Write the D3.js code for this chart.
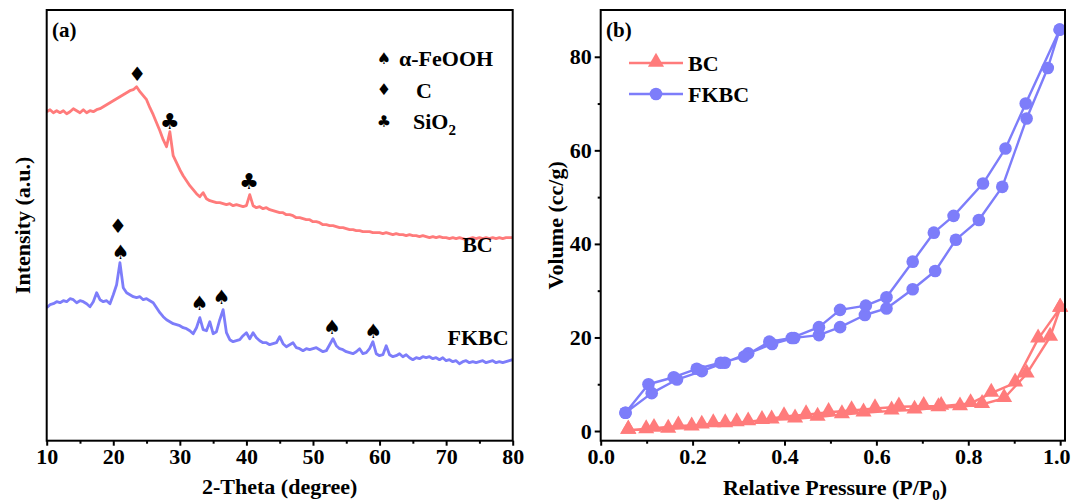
<!DOCTYPE html>
<html>
<head>
<meta charset="utf-8">
<script src="https://cdn.jsdelivr.net/npm/d3@7"></script>
<style>
  body { margin: 0; background: #fff; }
  svg { display: block; }
  text { font-family: "Liberation Serif", "Times New Roman", serif; font-weight: bold; fill: #000; }
  .glyph { font-family: "DejaVu Sans", sans-serif; font-weight: normal; }
</style>
</head>
<body>
<svg id="chart" width="1072" height="502"></svg>
<script>
// ---------- (a) XRD patterns ----------
const twoTheta = [
  10, 10.5, 11, 11.5, 12, 12.5, 13, 13.5, 14, 14.5,
  15, 15.5, 16, 16.5, 17, 17.5, 18, 18.5, 19, 19.5,
  20, 20.5, 21, 21.5, 22, 22.5, 23, 23.5, 24, 24.5,
  25, 25.5, 26, 26.5, 27, 27.5, 28, 28.5, 29, 29.5,
  30, 30.5, 31, 31.5, 32, 32.5, 33, 33.5, 34, 34.5,
  35, 35.5, 36, 36.5, 37, 37.5, 38, 38.5, 39, 39.5,
  40, 40.5, 41, 41.5, 42, 42.5, 43, 43.5, 44, 44.5,
  45, 45.5, 46, 46.5, 47, 47.5, 48, 48.5, 49, 49.5,
  50, 50.5, 51, 51.5, 52, 52.5, 53, 53.5, 54, 54.5,
  55, 55.5, 56, 56.5, 57, 57.5, 58, 58.5, 59, 59.5,
  60, 60.5, 61, 61.5, 62, 62.5, 63, 63.5, 64, 64.5,
  65, 65.5, 66, 66.5, 67, 67.5, 68, 68.5, 69, 69.5,
  70, 70.5, 71, 71.5, 72, 72.5, 73, 73.5, 74, 74.5,
  75, 75.5, 76, 76.5, 77, 77.5, 78, 78.5, 79, 79.5,
  80
];

// stacked intensities (a.u., offset per sample)
const bcIntensity = [
  329, 331, 328, 330, 328, 330, 327, 329, 332, 330,
  328, 331, 328, 330, 329, 331, 332, 334, 336, 338,
  340, 342, 344, 346, 348, 350, 351, 354, 349, 345,
  341, 333, 326, 318, 310, 301, 294, 309, 285, 278,
  271, 265, 260, 255, 251, 247, 244, 248, 242, 240,
  239, 238, 238, 237, 236, 237, 235, 236, 235, 234,
  235, 246, 235, 233, 234, 232, 233, 231, 230, 229,
  228, 228, 226, 226, 225, 223, 223, 222, 221, 221,
  219, 219, 218, 216, 216, 215, 215, 214, 213, 213,
  212, 211, 211, 210, 210, 209, 209, 209, 208, 208,
  208, 207, 208, 207, 206, 207, 206, 206, 205, 206,
  205, 205, 204, 205, 204, 203, 204, 203, 204, 203,
  203, 202, 203, 202, 203, 202, 201, 202, 203, 202,
  203, 202, 203, 202, 203, 202, 203, 202, 203, 203,
  203
];

const fkbcIntensity = [
  133, 136, 137, 139, 138, 140, 139, 142, 141, 138,
  140, 139, 137, 134, 139, 148, 141, 139, 140, 137,
  146, 156, 178, 153, 148, 146, 144, 143, 144, 141,
  142, 140, 138, 133, 128, 124, 121, 119, 117, 116,
  115, 113, 112, 110, 107, 113, 123, 111, 110, 119,
  107, 109, 121, 131, 108, 101, 99, 100, 101, 105,
  108, 102, 108, 103, 100, 98, 98, 96, 97, 98,
  104, 97, 94, 96, 98, 93, 92, 90, 92, 91,
  92, 93, 91, 89, 90, 96, 102, 95, 92, 91,
  89, 88, 87, 89, 92, 87, 88, 92, 99, 87,
  85, 86, 95, 86, 84, 85, 87, 84, 86, 83,
  81, 83, 82, 84, 83, 84, 82, 83, 81, 83,
  80, 81, 79, 80, 77, 79, 80, 78, 79, 78,
  79, 80, 78, 79, 80, 78, 79, 78, 79, 80,
  81
];

const xrdTicks = [10, 20, 30, 40, 50, 60, 70, 80];
const xrdMinorTicks = [15, 25, 35, 45, 55, 65, 75];

// phase markers: [phase, 2θ, height in a.u.]
const phaseMarks = [
  ["C", 23.6, 367], ["SiO2", 28.5, 320], ["SiO2", 40.4, 260],
  ["C", 20.7, 215], ["FeOOH", 21.1, 189], ["FeOOH", 33.0, 138],
  ["FeOOH", 36.3, 144], ["FeOOH", 52.9, 114], ["FeOOH", 59.1, 110]
];
const phaseNames = ["FeOOH", "C", "SiO2"];

// ---------- (b) N2 isotherms ----------
const bcAdsP = [0.060, 0.099, 0.147, 0.198, 0.245, 0.296, 0.372, 0.423, 0.472, 0.525, 0.572, 0.633, 0.683, 0.735, 0.782, 0.830, 0.878, 0.927, 0.978, 1.000];
const bcAdsV = [0.2, 0.3, 0.4, 0.9, 1.6, 1.8, 2.4, 2.6, 3.0, 3.5, 3.9, 4.3, 4.5, 5.0, 5.2, 5.7, 7.0, 12.2, 20.1, 26.3];
const bcDesP = [1.000, 0.952, 0.902, 0.850, 0.805, 0.741, 0.703, 0.649, 0.597, 0.546, 0.496, 0.447, 0.399, 0.351, 0.321, 0.271, 0.220, 0.169, 0.116, 0.060];
const bcDesV = [26.3, 19.7, 10.3, 8.1, 5.9, 5.3, 5.3, 5.2, 4.8, 4.4, 4.0, 3.5, 3.1, 2.3, 2.0, 1.6, 1.3, 1.1, 0.6, 0.2];

const fkbcAdsP = [0.054, 0.111, 0.166, 0.220, 0.270, 0.321, 0.373, 0.421, 0.475, 0.521, 0.575, 0.622, 0.679, 0.728, 0.773, 0.823, 0.874, 0.927, 0.973, 0.999];
const fkbcAdsV = [3.9, 8.1, 11.0, 12.8, 14.6, 16.6, 18.6, 19.9, 20.5, 22.2, 24.8, 26.2, 30.3, 34.2, 40.9, 45.1, 52.2, 66.8, 77.6, 85.8];
const fkbcDesP = [0.999, 0.925, 0.881, 0.832, 0.768, 0.725, 0.679, 0.622, 0.577, 0.521, 0.475, 0.416, 0.367, 0.312, 0.261, 0.209, 0.159, 0.104, 0.054];
const fkbcDesV = [85.8, 70.0, 60.4, 52.9, 46.0, 42.4, 36.2, 28.6, 26.8, 25.9, 22.2, 19.9, 19.1, 15.9, 14.6, 13.3, 11.5, 10.0, 3.9];

const pTicks = [0, 0.2, 0.4, 0.6, 0.8, 1.0];
const pMinorTicks = [0.1, 0.3, 0.5, 0.7, 0.9];
const vTicks = [0, 20, 40, 60, 80];
const vMinorTicks = [10, 30, 50, 70];

const sampleNames = ["BC", "FKBC"];
const colors = { BC: "#ff7b7b", FKBC: "#7d7dfa" };

// ---------- drawing ----------
const svg = d3.select("#chart");
const glyphOf = { FeOOH: "\u2660", C: "\u2666", SiO2: "\u2663" };

// panel (a)
const A = { left: 46.7, right: 512.7, top: 10, bottom: 440.7 };
const xA = d3.scaleLinear().domain([10, 80]).range([A.left, A.right]);
const yA = d3.scaleLinear().domain([0, 430.7]).range([A.bottom, A.top]);

const gA = svg.append("g");
const lineA = d3.line().x(d => xA(d[0])).y(d => yA(d[1]));
[["BC", bcIntensity], ["FKBC", fkbcIntensity]].forEach(([name, vals]) => {
  gA.append("path")
    .datum(twoTheta.map((t, i) => [t, vals[i]]))
    .attr("d", lineA)
    .attr("fill", "none")
    .attr("stroke", colors[name])
    .attr("stroke-width", 2.8)
    .attr("stroke-linejoin", "round");
});

gA.selectAll("text.mark").data(phaseMarks).join("text")
  .attr("class", "glyph mark")
  .attr("x", d => xA(d[1]))
  .attr("y", d => yA(d[2]))
  .attr("dy", "0.36em")
  .attr("text-anchor", "middle")
  .style("font-size", d => d[0] === "SiO2" ? "22px" : "20px")
  .text(d => glyphOf[d[0]]);

// sample labels next to traces
gA.append("text").attr("x", xA(80) - 20).attr("y", yA(bcIntensity[bcIntensity.length - 1]) + 14)
  .attr("text-anchor", "end").style("font-size", "22px").text(sampleNames[0]);
gA.append("text").attr("x", xA(80) - 4).attr("y", yA(fkbcIntensity[fkbcIntensity.length - 1]) - 15)
  .attr("text-anchor", "end").style("font-size", "22px").text(sampleNames[1]);

// phase legend
const legA = gA.append("g").attr("transform", "translate(384,58)");
phaseNames.forEach((p, i) => {
  const row = legA.append("g").attr("transform", `translate(0,${i * 31.5})`);
  row.append("text").attr("class", "glyph").attr("text-anchor", "middle").attr("dy", "0.36em")
    .style("font-size", "16px").text(glyphOf[p]);
  if (p === "FeOOH") {
    row.append("text").attr("x", 15).attr("y", 8).style("font-size", "22px").text("\u03b1-FeOOH");
  } else if (p === "C") {
    row.append("text").attr("x", 32).attr("y", 8).style("font-size", "22px").text("C");
  } else {
    const t = row.append("text").attr("x", 29).attr("y", 8).style("font-size", "22px");
    t.append("tspan").text("SiO");
    t.append("tspan").attr("dy", 6).style("font-size", "15px").text("2");
  }
});

// axis (a)
const axA = gA.append("g").attr("transform", `translate(0,${A.bottom})`);
axA.call(d3.axisBottom(xA).tickValues(xrdTicks).tickSize(5).tickPadding(3).tickFormat(d3.format("d")));
axA.append("g").call(d3.axisBottom(xA).tickValues(xrdMinorTicks).tickSize(3).tickFormat(""));
gA.append("rect").attr("x", A.left).attr("y", A.top).attr("width", A.right - A.left).attr("height", A.bottom - A.top)
  .attr("fill", "none").attr("stroke", "#000").attr("stroke-width", 2);
gA.append("text").attr("x", 52).attr("y", 37).style("font-size", "21px").text("(a)");
gA.append("text").attr("x", (A.left + A.right) / 2).attr("y", 494).attr("text-anchor", "middle")
  .style("font-size", "22px").text("2-Theta (degree)");
gA.append("text").attr("transform", `translate(30,${(A.top + A.bottom) / 2}) rotate(-90)`)
  .attr("text-anchor", "middle").style("font-size", "22px").text("Intensity (a.u.)");

// panel (b)
const B = { left: 600.7, right: 1065, top: 10, bottom: 440.7 };
const xB = d3.scaleLinear().domain([0, 1.0105]).range([B.left, B.right]);
const yB = d3.scaleLinear().domain([-2.07, 90]).range([B.bottom, B.top]);
const gB = svg.append("g");
const lineB = d3.line().x(d => xB(d[0])).y(d => yB(d[1]));

const isotherms = [
  { name: "BC", pts: bcAdsP.map((p, i) => [p, bcAdsV[i]]).concat(bcDesP.map((p, i) => [p, bcDesV[i]])), shape: "tri" },
  { name: "FKBC", pts: fkbcAdsP.map((p, i) => [p, fkbcAdsV[i]]).concat(fkbcDesP.map((p, i) => [p, fkbcDesV[i]])), shape: "circ" }
];
const triPath = d3.symbol().type(d3.symbolTriangle).size(112)();

isotherms.forEach(s => {
  gB.append("path").datum(s.pts).attr("d", lineB).attr("fill", "none")
    .attr("stroke", colors[s.name]).attr("stroke-width", 2.4).attr("stroke-linejoin", "round");
});
isotherms.forEach(s => {
  const g = gB.append("g").attr("fill", colors[s.name]);
  if (s.shape === "tri") {
    g.selectAll("path").data(s.pts).join("path")
      .attr("transform", d => `translate(${xB(d[0])},${yB(d[1]) - 1})`).attr("d", triPath);
  } else {
    g.selectAll("circle").data(s.pts).join("circle")
      .attr("cx", d => xB(d[0])).attr("cy", d => yB(d[1])).attr("r", 6.3);
  }
});

// legend (b)
isotherms.forEach((s, i) => {
  const y = 63 + i * 31;
  gB.append("line").attr("x1", 629).attr("x2", 683).attr("y1", y).attr("y2", y)
    .attr("stroke", colors[s.name]).attr("stroke-width", 2.4);
  if (s.shape === "tri") {
    gB.append("path").attr("transform", `translate(656,${y - 1})`).attr("d", triPath).attr("fill", colors[s.name]);
  } else {
    gB.append("circle").attr("cx", 656).attr("cy", y).attr("r", 6.3).attr("fill", colors[s.name]);
  }
  gB.append("text").attr("x", 688).attr("y", y + 8).style("font-size", "22px").text(s.name);
});

// axes (b)
const axBx = gB.append("g").attr("transform", `translate(0,${B.bottom})`);
axBx.call(d3.axisBottom(xB).tickValues(pTicks).tickSize(5).tickPadding(3).tickFormat(d3.format(".1f")));
axBx.append("g").call(d3.axisBottom(xB).tickValues(pMinorTicks).tickSize(3).tickFormat(""));
const axBy = gB.append("g").attr("transform", `translate(${B.left},0)`);
axBy.call(d3.axisLeft(yB).tickValues(vTicks).tickSize(6).tickPadding(3).tickFormat(d3.format("d")));
axBy.append("g").call(d3.axisLeft(yB).tickValues(vMinorTicks).tickSize(3).tickFormat(""));
gB.append("rect").attr("x", B.left).attr("y", B.top).attr("width", B.right - B.left).attr("height", B.bottom - B.top)
  .attr("fill", "none").attr("stroke", "#000").attr("stroke-width", 2);
gB.append("text").attr("x", 606).attr("y", 37).style("font-size", "21px").text("(b)");
const xt = gB.append("text").attr("x", 835).attr("y", 495).attr("text-anchor", "middle").style("font-size", "22px");
xt.append("tspan").text("Relative Pressure (P/P");
xt.append("tspan").attr("dy", 5).style("font-size", "15px").text("0");
xt.append("tspan").attr("dy", -5).text(")");
gB.append("text").attr("transform", `translate(563,${(B.top + B.bottom) / 2}) rotate(-90)`)
  .attr("text-anchor", "middle").style("font-size", "22px").text("Volume (cc/g)");

// common axis styling
svg.selectAll(".domain").remove();
svg.selectAll(".tick line").attr("stroke", "#000").attr("stroke-width", 2);
svg.selectAll(".tick text").style("font-family", "'Liberation Serif','Times New Roman',serif")
  .style("font-weight", "bold").style("font-size", "22px").attr("fill", "#000");
// keep the last pressure label inside the page
axBx.selectAll(".tick text").filter(d => d === 1.0).attr("dx", -4);
</script>
</body>
</html>
